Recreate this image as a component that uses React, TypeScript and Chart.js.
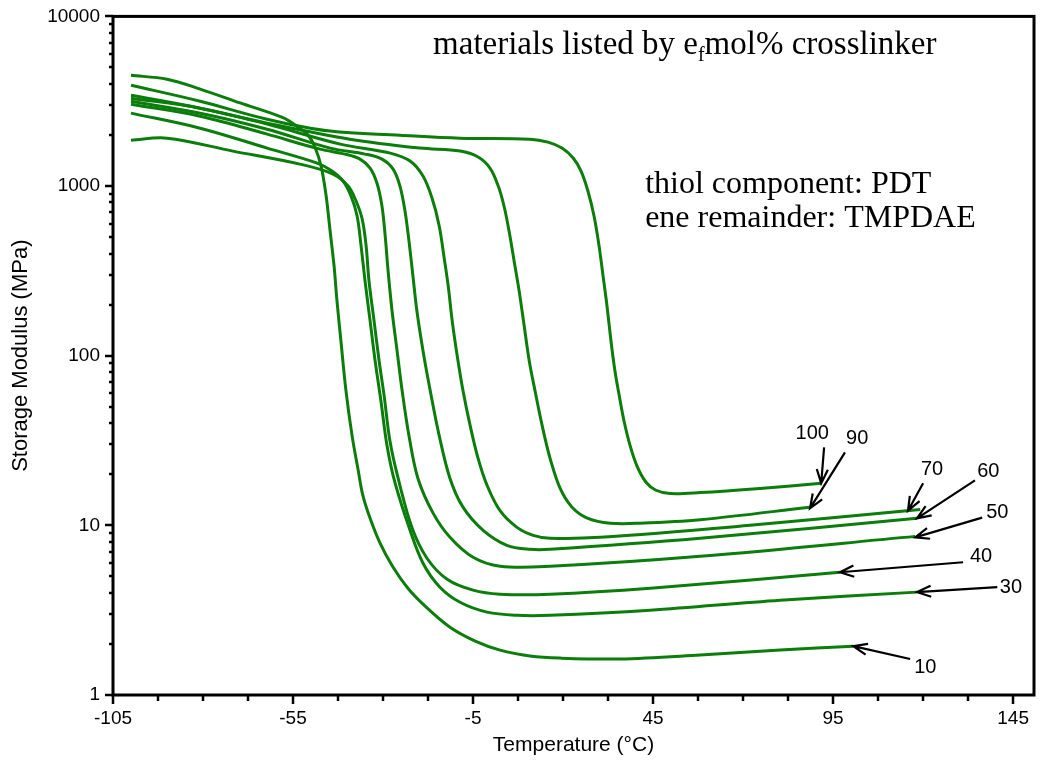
import React, { useEffect, useRef } from "react";
import { Chart, registerables } from "chart.js";
Chart.register(...registerables);

// ---- data: temperature (°C) and storage modulus (MPa) per material ----
const seriesNames = ["10", "30", "40", "50", "60", "70", "90", "100"];

const t10 = [-100, -90, -80.8, -69.7, -57.8, -53.6, -50.8, -48.9, -47.2, -45.8, -44.7, -43.6, -42.8, -41.7, -40.3, -38.6, -36.9, -35.6, -33.6, -30.8, -27.2, -23.1, -18.3, -11.4, -4.4, 2.5, 10.8, 19.2, 35.8, 58.1, 80.3, 100.6];
const e10 = [4500, 4260, 3730, 3090, 2530, 2223, 1995, 1694, 1311, 873, 543, 338, 211, 122.5, 62.3, 33.8, 21.1, 15.0, 11.0, 7.83, 5.66, 4.26, 3.34, 2.51, 2.08, 1.84, 1.70, 1.65, 1.63, 1.72, 1.84, 1.94];

const t30 = [-100, -80.8, -62.2, -48.3, -44.2, -41.1, -38.9, -37.2, -36.1, -35.0, -33.6, -32.2, -30.6, -28.9, -26.7, -22.5, -18.9, -14.2, -8.6, -1.1, 7.2, 16.4, 44.2, 80.3, 118.3];
const e30 = [2690, 2193, 1674, 1365, 1225, 1070, 873, 666, 444, 276, 161, 93.4, 54.4, 29.6, 17.9, 9.35, 5.98, 4.32, 3.52, 3.08, 2.95, 2.95, 3.16, 3.62, 4.04];

const t40 = [-100, -90, -71.7, -53.1, -43.9, -39.7, -37.5, -35.8, -34.7, -33.9, -32.5, -31.1, -29.7, -28.1, -25.8, -21.9, -17.8, -12.2, -5, 2.5, 16.4, 44.2, 96.9];
const e40 = [1865, 1916, 1607, 1347, 1177, 1000, 816, 640, 444, 276, 161, 93.4, 58.2, 31.6, 18.9, 9.6, 6.4, 4.81, 4.15, 3.93, 3.93, 4.26, 5.29];

const t50 = [-100, -80.8, -62.2, -47.5, -40.6, -36.4, -33.6, -31.7, -30.3, -29.4, -28.6, -27.5, -26.1, -24.7, -22.8, -20.3, -16.1, -11.4, -5, 2.5, 16.4, 58.1, 117.8];
const e50 = [3036, 2582, 2022, 1650, 1543, 1442, 1276, 1042, 763, 508, 316, 184, 107, 62.3, 33.8, 18.9, 11.8, 8.5, 6.48, 5.74, 5.74, 6.57, 8.61];

const t60 = [-100, -80.8, -62.2, -44.7, -35.0, -30.3, -27.2, -25.3, -23.9, -22.8, -21.7, -20.6, -18.9, -16.9, -14.4, -11.4, -7.8, -2.2, 4.4, 10.8, 16.4, 58.1, 118.3];
const e60 = [3162, 2688, 2163, 1674, 1543, 1442, 1259, 1000, 713, 475, 296, 184, 107, 62.3, 33.8, 18.9, 12.8, 9.35, 7.63, 7.22, 7.22, 8.39, 11.0];

const t70 = [-100, -80.8, -62.2, -41.9, -28.0, -22.5, -18.9, -16.4, -14.4, -13.1, -11.9, -10.8, -9.4, -7.8, -5.8, -3.6, -1.1, 2.5, 7.2, 11.7, 16.4, 30.3, 71.9, 119.2];
const e70 = [3296, 2877, 2316, 1766, 1563, 1403, 1145, 850, 582, 387, 258, 161, 100, 62.3, 38.7, 24.8, 17.2, 12.2, 9.73, 8.73, 8.4, 8.5, 10, 12.4];

const t90 = [-100, -80.8, -62.2, -39.2, -19.7, -8.6, -3.6, -0.3, 1.9, 3.6, 5.0, 6.4, 7.8, 9.2, 10.6, 12.2, 14.2, 16.4, 19.2, 22.5, 26.9, 33.1, 41.4, 58.1, 88.6];
const e90 = [3430, 2877, 2349, 1890, 1674, 1607, 1482, 1276, 1014, 763, 543, 362, 241, 150, 93.4, 62.3, 38.7, 24.8, 16.5, 12.8, 11.0, 10.3, 10.3, 10.8, 12.8];

const t100 = [-100, -80.8, -62.2, -44.7, -25.3, -8.6, 10.8, 15.8, 19.7, 22.8, 25.0, 26.9, 28.6, 30.0, 31.1, 32.2, 33.3, 34.4, 35.6, 36.9, 38.6, 40.6, 43.1, 45.8, 49.7, 58.1, 74.7, 91.7];
const e100 = [3926, 3162, 2478, 2108, 1995, 1916, 1890, 1815, 1674, 1462, 1225, 935, 666, 444, 296, 197, 122.5, 81.6, 58.2, 41.5, 29.6, 22.2, 17.9, 16.1, 15.4, 15.6, 16.5, 17.7];

const seriesT = [t10, t30, t40, t50, t60, t70, t90, t100];
const seriesE = [e10, e30, e40, e50, e60, e70, e90, e100];

// ---- axes ----
const X_MIN = -105;
const X_MAX = 150.8;
const xTickStep = 12.5;
const xTickLabels = [-105, -55, -5, 45, 95, 145];
const Y_MIN = 1;
const Y_MAX = 10000;
const yTickLabels = [1, 10, 100, 1000, 10000];

// ---- annotations (label text, label position, arrow tail, arrow tip) ----
const labelT = [120.6, 144.4, 136.1, 140.6, 138.1, 122.5, 101.7, 89.2];
const labelE = [1.46, 4.32, 6.57, 11.9, 20.8, 21.4, 32.5, 34.8];
const arrowFromT = [116.4, 140.6, 131.1, 136.4, 134.4, 120.0, 98.3, 92.5];
const arrowFromE = [1.63, 4.32, 6.06, 11.1, 18.4, 17.7, 26.9, 28.8];
const arrowToT = [100.6, 118.3, 96.9, 117.8, 118.3, 115.8, 88.6, 91.7];
const arrowToE = [1.94, 4.04, 5.29, 8.5, 11.0, 12.2, 12.6, 17.7];

const noteTitle = ["materials listed by e", "f", "mol% crosslinker"];
const noteTitlePos = { t: -16.1, e: 7000 };
const noteLines = ["thiol component: PDT", "ene remainder: TMPDAE"];
const noteLinesT = 42.8;
const noteLinesE = [1060, 670];

const LINE_COLOR = "#0b7d0b";

function buildXTicks() {
  const out: number[] = [];
  for (let i = 0; X_MIN + i * xTickStep <= 145 + 1e-9; i++) out.push(X_MIN + i * xTickStep);
  return out;
}
function buildYTicks() {
  const out: number[] = [];
  for (let d = 0; d < 4; d++) for (let m = 1; m <= 9; m++) out.push(m * Math.pow(10, d));
  out.push(Y_MAX);
  return out;
}
const isXMajor = (v: number) => xTickLabels.some((l) => Math.abs(l - v) < 1e-6);
const isYMajor = (v: number) => yTickLabels.some((l) => Math.abs(l - v) < 1e-6);

const decorPlugin = {
  id: "decor",
  afterDraw(chart: any) {
    const { ctx, chartArea: a, scales } = chart;
    const xs = scales.x;
    const ys = scales.y;
    ctx.save();
    ctx.strokeStyle = "#000";
    ctx.lineWidth = 3;
    ctx.strokeRect(a.left, a.top, a.right - a.left, a.bottom - a.top);
    ctx.lineWidth = 2.5;
    ctx.beginPath();
    xs.ticks.forEach((tk: any) => {
      const px = Math.round(xs.getPixelForValue(tk.value));
      const len = isXMajor(tk.value) ? 9 : 6;
      ctx.moveTo(px, a.bottom);
      ctx.lineTo(px, a.bottom + len);
    });
    ys.ticks.forEach((tk: any) => {
      const py = Math.round(ys.getPixelForValue(tk.value));
      const len = isYMajor(tk.value) ? 8 : 4;
      ctx.moveTo(a.left, py);
      ctx.lineTo(a.left - len, py);
    });
    ctx.stroke();

    // arrows + labels
    ctx.fillStyle = "#000";
    ctx.font = '20px "Liberation Sans", Arial, sans-serif';
    ctx.textAlign = "center";
    ctx.textBaseline = "middle";
    for (let i = 0; i < seriesNames.length; i++) {
      const x0 = xs.getPixelForValue(arrowFromT[i]);
      const y0 = ys.getPixelForValue(arrowFromE[i]);
      const x1 = xs.getPixelForValue(arrowToT[i]);
      const y1 = ys.getPixelForValue(arrowToE[i]);
      ctx.lineWidth = 2.2;
      ctx.beginPath();
      ctx.moveTo(x0, y0);
      ctx.lineTo(x1, y1);
      const ang = Math.atan2(y0 - y1, x0 - x1);
      const hl = 15;
      const spread = 0.38;
      ctx.moveTo(x1 + hl * Math.cos(ang - spread), y1 + hl * Math.sin(ang - spread));
      ctx.lineTo(x1, y1);
      ctx.lineTo(x1 + hl * Math.cos(ang + spread), y1 + hl * Math.sin(ang + spread));
      ctx.stroke();
      ctx.fillText(seriesNames[i], xs.getPixelForValue(labelT[i]), ys.getPixelForValue(labelE[i]));
    }

    // notes
    ctx.textAlign = "left";
    ctx.textBaseline = "alphabetic";
    const big = '33px "Liberation Serif", "Times New Roman", serif';
    const mid = '32px "Liberation Serif", "Times New Roman", serif';
    const small = '20px "Liberation Serif", "Times New Roman", serif';
    let nx = xs.getPixelForValue(noteTitlePos.t);
    const ny = ys.getPixelForValue(noteTitlePos.e) + 11;
    ctx.font = big;
    ctx.fillText(noteTitle[0], nx, ny);
    nx += ctx.measureText(noteTitle[0]).width;
    ctx.font = small;
    ctx.fillText(noteTitle[1], nx, ny + 7);
    nx += ctx.measureText(noteTitle[1]).width;
    ctx.font = big;
    ctx.fillText(noteTitle[2], nx, ny);
    ctx.font = mid;
    for (let i = 0; i < noteLines.length; i++) {
      ctx.fillText(noteLines[i], xs.getPixelForValue(noteLinesT), ys.getPixelForValue(noteLinesE[i]) + 11);
    }
    ctx.restore();
  },
};

export default function App() {
  const ref = useRef<HTMLCanvasElement | null>(null);
  useEffect(() => {
    if (!ref.current) return;
    const datasets = seriesNames.map((name, i) => ({
      label: name,
      data: seriesT[i].map((t, j) => ({ x: t, y: seriesE[i][j] })),
      borderColor: LINE_COLOR,
      backgroundColor: LINE_COLOR,
      borderWidth: 3,
      pointRadius: 0,
      fill: false,
      tension: 0.35,
    }));
    const tickFont = { family: '"Liberation Sans", Arial, sans-serif', size: 19 };
    const chart = new Chart(ref.current, {
      type: "line",
      data: { datasets },
      plugins: [decorPlugin],
      options: {
        responsive: false,
        animation: false,
        layout: { padding: { top: 14, right: 16, left: 0, bottom: 0 } },
        plugins: { legend: { display: false }, tooltip: { enabled: false } },
        scales: {
          x: {
            type: "linear",
            min: X_MIN,
            max: X_MAX,
            afterBuildTicks: (s: any) => {
              s.ticks = buildXTicks().map((v) => ({ value: v }));
            },
            afterFit: (s: any) => {
              s.height = 76;
            },
            grid: { display: false, tickLength: 9 },
            border: { display: false },
            ticks: {
              autoSkip: false,
              maxRotation: 0,
              padding: 3,
              color: "#000",
              font: tickFont,
              callback: (v: any) => (isXMajor(Number(v)) ? String(Math.round(Number(v))) : ""),
            },
            title: {
              display: true,
              text: "Temperature (°C)",
              color: "#000",
              font: { family: '"Liberation Sans", Arial, sans-serif', size: 21 },
              padding: { top: 0, bottom: 13 },
            },
          },
          y: {
            type: "logarithmic",
            min: Y_MIN,
            max: Y_MAX,
            afterBuildTicks: (s: any) => {
              s.ticks = buildYTicks().map((v) => ({ value: v }));
            },
            afterFit: (s: any) => {
              s.width = 113;
            },
            grid: { display: false, tickLength: 8 },
            border: { display: false },
            ticks: {
              autoSkip: false,
              padding: 5,
              color: "#000",
              font: tickFont,
              callback: (v: any) => (isYMajor(Number(v)) ? String(Math.round(Number(v))) : ""),
            },
            title: {
              display: true,
              text: "Storage Modulus (MPa)",
              color: "#000",
              font: { family: '"Liberation Sans", Arial, sans-serif', size: 22 },
              padding: { top: 8, bottom: 0 },
            },
          },
        },
      },
    });
    return () => chart.destroy();
  }, []);
  return (
    <div style={{ position: "fixed", left: 0, top: 0, width: 1050, height: 771, background: "#fff" }}>
      <canvas ref={ref} width={1050} height={771} style={{ width: 1050, height: 771, display: "block" }} />
    </div>
  );
}
